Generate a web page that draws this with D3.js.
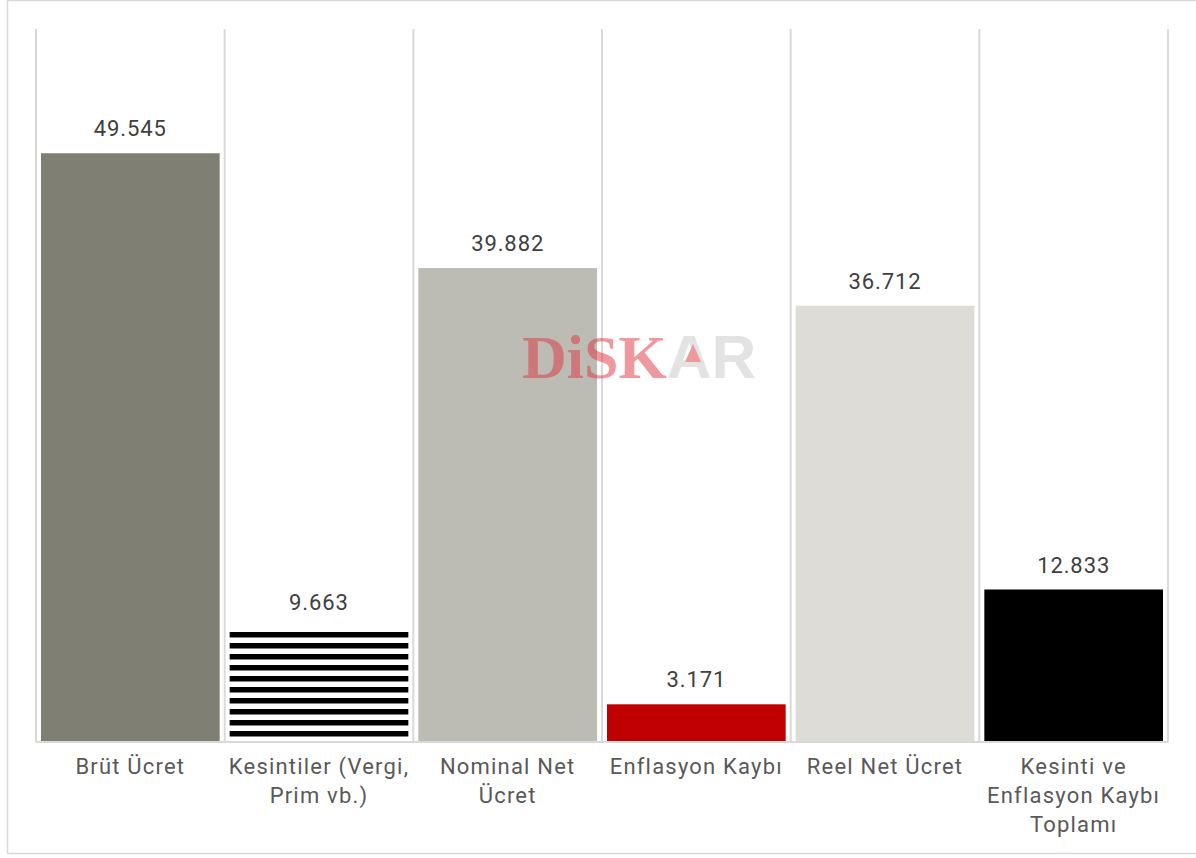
<!DOCTYPE html>
<html>
<head>
<meta charset="utf-8">
<script src="https://cdn.jsdelivr.net/npm/d3@7"></script>
<style>
  html, body { margin: 0; padding: 0; background: #fff; }
</style>
</head>
<body>
<svg id="chart" width="1196" height="858"></svg>
<script>
// chart data
const categories = ['Brüt Ücret', 'Kesintiler (Vergi, Prim vb.)', 'Nominal Net Ücret', 'Enflasyon Kaybı', 'Reel Net Ücret', 'Kesinti ve Enflasyon Kaybı Toplamı'];
const labelLines = [
    ['Brüt Ücret'],
    ['Kesintiler (Vergi,', 'Prim vb.)'],
    ['Nominal Net', 'Ücret'],
    ['Enflasyon Kaybı'],
    ['Reel Net Ücret'],
    ['Kesinti ve', 'Enflasyon Kaybı', 'Toplamı']
];
const values = [49545, 9663, 39882, 3171, 36712, 12833];
const valueLabels = ['49.545', '9.663', '39.882', '3.171', '36.712', '12.833'];
const fills = ['#7f7f73', 'url(#stripes)', '#bcbcb4', '#c00000', '#dddcd7', '#000000'];

const width = 1196, height = 858;
const plot = { left: 36, right: 1168, top: 29, bottom: 742 };
const font = 'Roboto, "Open Sans", sans-serif';

const svg = d3.select('#chart');

// stripe pattern for the deductions bar
const defs = svg.append('defs');
const pat = defs.append('pattern')
    .attr('id', 'stripes')
    .attr('patternUnits', 'userSpaceOnUse')
    .attr('width', 11)
    .attr('height', 11)
    .attr('y', 632);
pat.append('rect').attr('width', 11).attr('height', 11).attr('fill', '#fff');
pat.append('rect').attr('width', 11).attr('height', 5).attr('fill', '#000');
pat.append('rect').attr('y', 5).attr('width', 11).attr('height', 1).attr('fill', '#808080');

// outer frame
svg.append('rect')
    .attr('x', 7.5).attr('y', 0.5)
    .attr('width', width + 20).attr('height', 853)
    .attr('fill', 'none')
    .attr('stroke', '#d9d9d9')
    .attr('stroke-width', 1.5);

const y = d3.scaleLinear()
    .domain([0, 60000])
    .range([plot.bottom, plot.top]);

const xCell = d3.scaleBand()
    .domain(categories)
    .range([plot.left, plot.right])
    .padding(0);

const xBar = d3.scaleBand()
    .domain(categories)
    .range([plot.left, plot.right])
    .paddingInner(0.053)
    .paddingOuter(0.0265);

// vertical separators
const seps = categories.map(c => xCell(c)).concat([plot.right]);
svg.append('g')
    .selectAll('line')
    .data(seps)
    .enter()
    .append('line')
    .attr('x1', d => d).attr('x2', d => d)
    .attr('y1', plot.top).attr('y2', plot.bottom)
    .attr('stroke', '#d9d9d9')
    .attr('stroke-width', 2);

// bars
svg.append('g')
    .selectAll('rect')
    .data(values)
    .enter()
    .append('rect')
    .attr('x', (d, i) => xBar(categories[i]))
    .attr('y', d => y(d))
    .attr('width', xBar.bandwidth())
    .attr('height', d => plot.bottom - y(d))
    .attr('fill', (d, i) => fills[i]);

// baseline
svg.append('line')
    .attr('x1', plot.left).attr('x2', plot.right)
    .attr('y1', plot.bottom).attr('y2', plot.bottom)
    .attr('stroke', '#d9d9d9')
    .attr('stroke-width', 2);

// value labels
svg.append('g')
    .selectAll('text')
    .data(values)
    .enter()
    .append('text')
    .attr('x', (d, i) => xBar(categories[i]) + xBar.bandwidth() / 2)
    .attr('y', d => y(d) - 17)
    .attr('text-anchor', 'middle')
    .style('font-family', font)
    .style('font-weight', 400)
    .attr('font-size', 22)
    .attr('letter-spacing', 0.9)
    .attr('fill', '#404040')
    .text((d, i) => valueLabels[i]);

// category labels
const cat = svg.append('g')
    .selectAll('text')
    .data(categories)
    .enter()
    .append('text')
    .attr('text-anchor', 'middle')
    .style('font-family', font)
    .style('font-weight', 400)
    .attr('font-size', 22)
    .attr('letter-spacing', 1.2)
    .attr('fill', '#595959');
cat.each(function (c, i) {
    const t = d3.select(this);
    labelLines[i].forEach((line, j) => {
        t.append('tspan')
            .attr('x', xCell(c) + xCell.bandwidth() / 2)
            .attr('y', plot.bottom + 32 + j * 29)
            .text(line);
    });
});

// watermark
const wm = svg.append('g').attr('opacity', 0.5);
const wmText = wm.append('text')
    .attr('x', 522).attr('y', 378)
    .style('font-weight', 'bold')
    .attr('font-size', 62);
wmText.append('tspan')
    .style('font-family', '"Liberation Serif", serif')
    .attr('fill', '#e0343e')
    .text('DiSK');
wmText.append('tspan')
    .style('font-family', '"Liberation Sans", sans-serif')
    .attr('fill', '#c8c8c8')
    .text('AR');
wm.append('path')
    .attr('d', 'M693,344 L701,362 L685,362 Z')
    .attr('fill', '#e0343e');
</script>
</body>
</html>
